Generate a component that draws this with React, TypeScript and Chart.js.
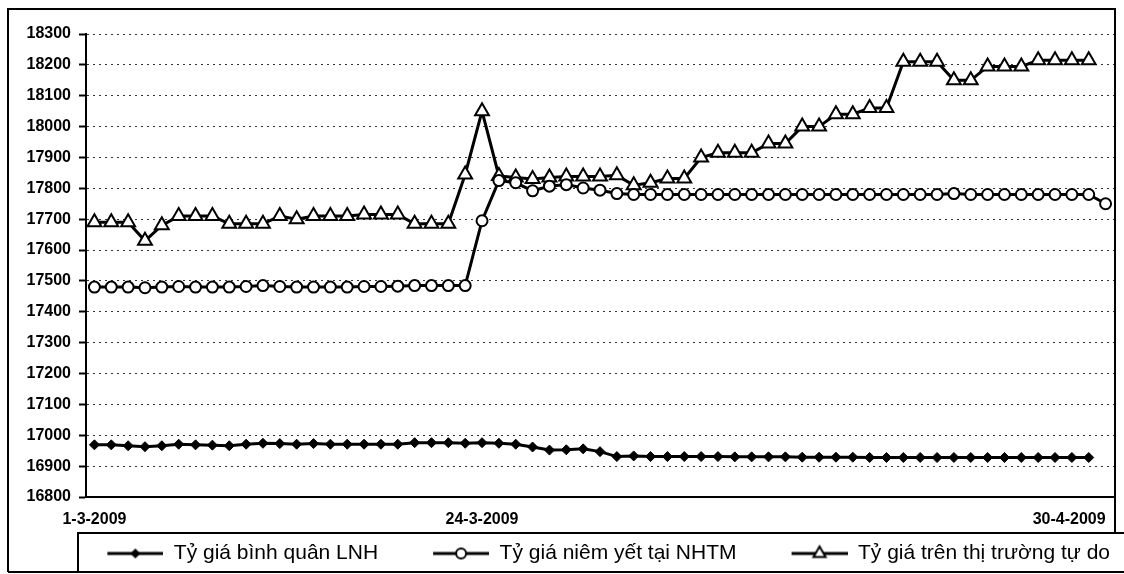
import React, { useEffect, useRef } from 'react';
import { Chart, registerables } from 'chart.js';

Chart.register(...registerables);

const dates: string[] = [
  '1-3-2009', '2-3-2009', '3-3-2009', '4-3-2009', '5-3-2009', '6-3-2009', '7-3-2009', '8-3-2009', '9-3-2009', '10-3-2009',
  '11-3-2009', '12-3-2009', '13-3-2009', '14-3-2009', '15-3-2009', '16-3-2009', '17-3-2009', '18-3-2009', '19-3-2009', '20-3-2009',
  '21-3-2009', '22-3-2009', '23-3-2009', '24-3-2009', '25-3-2009', '26-3-2009', '27-3-2009', '28-3-2009', '29-3-2009', '30-3-2009',
  '31-3-2009', '1-4-2009', '2-4-2009', '3-4-2009', '4-4-2009', '5-4-2009', '6-4-2009', '7-4-2009', '8-4-2009', '9-4-2009',
  '10-4-2009', '11-4-2009', '12-4-2009', '13-4-2009', '14-4-2009', '15-4-2009', '16-4-2009', '17-4-2009', '18-4-2009', '19-4-2009',
  '20-4-2009', '21-4-2009', '22-4-2009', '23-4-2009', '24-4-2009', '25-4-2009', '26-4-2009', '27-4-2009', '28-4-2009', '29-4-2009',
  '30-4-2009',
];

const shownDates: string[] = ['1-3-2009', '24-3-2009', '30-4-2009'];

const seriesNames: string[] = [
  'Tỷ giá bình quân LNH',
  'Tỷ giá niêm yết tại NHTM',
  'Tỷ giá trên thị trường tự do',
];

const yMin = 16800;
const yMax = 18300;
const yStep = 100;

const binhQuanLNH: number[] = [
  16969, 16969, 16966, 16963, 16966, 16971, 16969, 16968, 16966, 16971,
  16974, 16973, 16971, 16973, 16971, 16971, 16971, 16971, 16971, 16976,
  16976, 16976, 16974, 16976, 16974, 16971, 16962, 16952, 16953, 16956,
  16947, 16931, 16933, 16931, 16931, 16931, 16931, 16931, 16930, 16930,
  16930, 16930, 16929, 16929, 16929, 16929, 16928, 16928, 16928, 16928,
  16928, 16928, 16928, 16928, 16928, 16928, 16928, 16928, 16928, 16928,
];

const niemYetNHTM: number[] = [
  17480, 17480, 17480, 17478, 17480, 17482, 17480, 17480, 17480, 17482,
  17485, 17482, 17480, 17480, 17480, 17480, 17482, 17482, 17483, 17485,
  17485, 17485, 17485, 17695, 17825, 17818, 17792, 17807, 17812, 17801,
  17794, 17783, 17780, 17780, 17780, 17780, 17780, 17780, 17780, 17780,
  17780, 17780, 17780, 17780, 17780, 17780, 17780, 17780, 17780, 17780,
  17780, 17783, 17780, 17780, 17780, 17780, 17780, 17780, 17780, 17780,
  17750,
];

const thiTruongTuDo: number[] = [
  17690, 17690, 17690, 17630, 17680, 17710, 17710, 17710, 17685, 17685,
  17685, 17710, 17700, 17710, 17710, 17710, 17715, 17715, 17715, 17685,
  17685, 17685, 17845, 18050, 17840, 17835, 17830, 17835, 17838, 17838,
  17838, 17842, 17810, 17818, 17832, 17832, 17900, 17915, 17915, 17915,
  17945, 17945, 18000, 18000, 18040, 18040, 18060, 18060, 18210, 18210,
  18210, 18150, 18150, 18195, 18195, 18195, 18215, 18215, 18215, 18215,
];

const FONT = "'Liberation Sans', Arial, sans-serif";
const ICON_W = 104;
const ICON_LINE = 56;

function makeIcon(kind: 'diamond' | 'circle' | 'triangle'): HTMLCanvasElement {
  const c = document.createElement('canvas');
  c.width = ICON_W;
  c.height = 20;
  const ctx = c.getContext('2d') as CanvasRenderingContext2D;
  const x0 = ICON_W - ICON_LINE;
  const cx = ICON_W - ICON_LINE / 2;
  const cy = 10;
  ctx.strokeStyle = '#000';
  ctx.lineWidth = 3;
  ctx.beginPath();
  ctx.moveTo(x0, cy);
  ctx.lineTo(ICON_W, cy);
  ctx.stroke();
  ctx.lineWidth = 2;
  ctx.beginPath();
  if (kind === 'diamond') {
    const r = 5;
    ctx.moveTo(cx - r, cy);
    ctx.lineTo(cx, cy - r);
    ctx.lineTo(cx + r, cy);
    ctx.lineTo(cx, cy + r);
    ctx.closePath();
    ctx.fillStyle = '#000';
    ctx.fill();
  } else if (kind === 'circle') {
    ctx.arc(cx, cy, 5, 0, Math.PI * 2);
    ctx.fillStyle = '#fff';
    ctx.fill();
    ctx.stroke();
  } else {
    const r = 7;
    ctx.moveTo(cx, cy - r);
    ctx.lineTo(cx + r * 0.866, cy + r / 2);
    ctx.lineTo(cx - r * 0.866, cy + r / 2);
    ctx.closePath();
    ctx.fillStyle = '#fff';
    ctx.fill();
    ctx.stroke();
  }
  return c;
}

const framePlugin = {
  id: 'framePlugin',
  beforeDraw(chart: any) {
    const xs = chart.scales.x;
    const items = xs.getLabelItems(chart.chartArea);
    items.forEach((it: any) => {
      if (it.label === shownDates[shownDates.length - 1]) {
        it.options = { ...it.options, textAlign: 'right' };
      }
    });
  },
  afterDraw(chart: any) {
    const { ctx, chartArea, legend } = chart;
    ctx.save();
    ctx.strokeStyle = '#000';
    ctx.lineWidth = 2;
    const left = 8;
    const top = 9;
    const right = chartArea.right + 1;
    const lt = legend.top - 3;
    const lb = legend.bottom - 2;
    const ll = chartArea.left - 8;
    ctx.beginPath();
    ctx.moveTo(left, lb);
    ctx.lineTo(left, top);
    ctx.lineTo(right, top);
    ctx.lineTo(right, lt);
    ctx.moveTo(ll, lb);
    ctx.lineTo(ll, lt);
    ctx.lineTo(chart.width, lt);
    ctx.moveTo(left, lb);
    ctx.lineTo(chart.width, lb);
    ctx.stroke();
    ctx.restore();
  },
};

export default function App() {
  const ref = useRef<HTMLCanvasElement | null>(null);

  useEffect(() => {
    if (!ref.current) return;
    const icons = [makeIcon('diamond'), makeIcon('circle'), makeIcon('triangle')];
    const chart = new Chart(ref.current, {
      type: 'line',
      data: {
        labels: dates,
        datasets: [
          {
            label: seriesNames[0],
            data: binhQuanLNH,
            borderColor: '#000',
            backgroundColor: '#000',
            borderWidth: 3,
            pointStyle: 'rectRot',
            pointRadius: 5,
            pointBorderWidth: 1,
            pointBackgroundColor: '#000',
            pointBorderColor: '#000',
            tension: 0,
          },
          {
            label: seriesNames[1],
            data: niemYetNHTM,
            borderColor: '#000',
            backgroundColor: '#fff',
            borderWidth: 3,
            pointStyle: 'circle',
            pointRadius: 5.5,
            pointBorderWidth: 2,
            pointBackgroundColor: '#fff',
            pointBorderColor: '#000',
            tension: 0,
          },
          {
            label: seriesNames[2],
            data: thiTruongTuDo,
            borderColor: '#000',
            backgroundColor: '#fff',
            borderWidth: 3,
            pointStyle: 'triangle',
            pointRadius: 8,
            pointBorderWidth: 2,
            pointBackgroundColor: '#fff',
            pointBorderColor: '#000',
            tension: 0,
          },
        ],
      },
      options: {
        responsive: false,
        animation: false,
        devicePixelRatio: 1,
        layout: { padding: { top: 34, right: 7, bottom: 0, left: 0 } },
        plugins: {
          tooltip: { enabled: false },
          legend: {
            display: true,
            position: 'bottom',
            align: 'end',
            labels: {
              usePointStyle: true,
              pointStyleWidth: ICON_W,
              padding: 7,
              color: '#000',
              font: { family: FONT, size: 21 },
              generateLabels: () =>
                seriesNames.map((name, i) => ({
                  text: name,
                  pointStyle: icons[i],
                  datasetIndex: i,
                  hidden: false,
                  fillStyle: '#fff',
                  strokeStyle: '#000',
                  lineWidth: 0,
                  fontColor: '#000',
                })),
            },
          },
        },
        scales: {
          x: {
            type: 'category',
            offset: true,
            grid: { display: false, drawTicks: false },
            border: { display: true, color: '#000', width: 2 },
            ticks: {
              autoSkip: false,
              maxRotation: 0,
              minRotation: 0,
              padding: 13,
              color: '#000',
              font: { family: FONT, size: 16, weight: 'bold' },
              callback: (_v: any, i: number) => (shownDates.includes(dates[i]) ? dates[i] : ''),
            },
            afterFit: (s: any) => {
              s.height = 39;
              s.paddingLeft = 0;
              s.paddingRight = 0;
            },
          },
          y: {
            min: yMin,
            max: yMax,
            grid: {
              color: '#333',
              lineWidth: 1,
              drawTicks: true,
              tickLength: 7,
              tickColor: '#000',
              tickWidth: 2,
              tickBorderDash: [],
            },
            border: { display: true, color: '#000', width: 2, dash: [2, 4] },
            ticks: {
              stepSize: yStep,
              padding: 8,
              color: '#000',
              font: { family: FONT, size: 16, weight: 'bold' },
              callback: (v: any) => String(v),
            },
            afterFit: (s: any) => {
              s.width = 86;
            },
          },
        },
      },
      plugins: [framePlugin],
    });
    return () => chart.destroy();
  }, []);

  return (
    <div style={{ position: 'fixed', left: 0, top: 0, width: 1124, height: 574, background: '#fff' }}>
      <canvas ref={ref} width={1124} height={574} />
    </div>
  );
}
